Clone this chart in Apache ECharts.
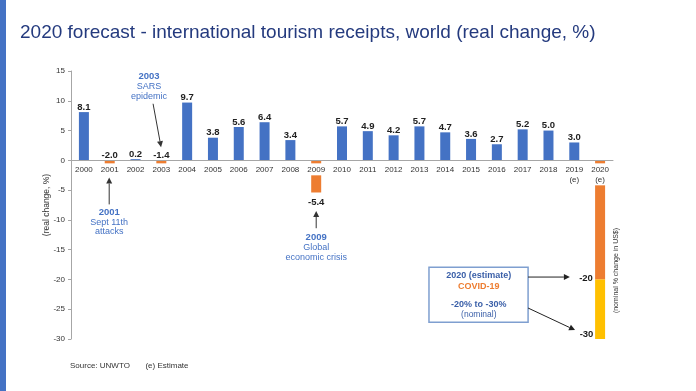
<!DOCTYPE html>
<html>
<head>
<meta charset="utf-8">
<script src="https://cdn.jsdelivr.net/npm/echarts@6/dist/echarts.min.js"></script>
<style>html,body{margin:0;padding:0;background:#fff}#c{width:696px;height:391px}</style>
</head>
<body>
<div id="c"></div>
<script>
// ---- data ----
const years = ['2000','2001','2002','2003','2004','2005','2006','2007','2008','2009','2010',
  '2011','2012','2013','2014','2015','2016','2017','2018','2019\n(e)','2020\n(e)'];
const realChange = [8.1, -2.0, 0.2, -1.4, 9.7, 3.8, 5.6, 6.4, 3.4, -5.4, 5.7,
  4.9, 4.2, 5.7, 4.7, 3.6, 2.7, 5.2, 5.0, 3.0];
const forecast2020 = [-20, -30];           // nominal % change in US$, low / high
const yTicks = { min: -30, max: 15, interval: 5 };

const BLUE = '#4472c4', ORANGE = '#ed7d31', YELLOW = '#ffc000';
const FONT = 'Liberation Sans, Arial, sans-serif';
const GRID = { left: 71, right: 83, top: 71, bottom: 52 };
const H = 391;

const mainData = realChange.concat([forecast2020[0]]).map((v, i) => ({
  value: v,
  itemStyle: { color: v < 0 ? ORANGE : BLUE },
  label: {
    show: i < realChange.length,
    position: (v < -3) ? 'bottom' : 'top',
    distance: (v < -3) ? 5 : 0
  }
}));
const rangeData = years.map((y, i) => i === years.length - 1 ? forecast2020[1] - forecast2020[0] : '-');

const chart = echarts.init(document.getElementById('c'));
chart.setOption({
  animation: false,
  textStyle: { fontFamily: FONT },
  title: {
    text: '2020 forecast - international tourism receipts, world (real change, %)',
    left: 15, top: 18,
    textStyle: { fontSize: 19, fontWeight: 'normal', color: '#243a7e', fontFamily: FONT }
  },
  grid: GRID,
  xAxis: {
    type: 'category', data: years, z: 10,
    axisLine: { onZero: false, lineStyle: { color: '#a6a6a6', width: 1 } },
    axisTick: { show: false },
    axisLabel: {
      interval: 0, fontSize: 8, color: '#333', margin: 3,
      lineHeight: 10, backgroundColor: '#fff', padding: [1, 2, 1, 2], fontFamily: FONT
    }
  },
  yAxis: {
    type: 'value', min: yTicks.min, max: yTicks.max, interval: yTicks.interval,
    name: '(real change, %)', nameLocation: 'middle', nameGap: 20, nameMoveOverlap: false,
    nameTextStyle: { fontSize: 8.5, color: '#333', fontFamily: FONT },
    axisLine: { show: true, lineStyle: { color: '#a6a6a6' } },
    axisTick: { show: true, length: 3, lineStyle: { color: '#a6a6a6' } },
    splitLine: { show: false },
    axisLabel: { fontSize: 8, color: '#333', margin: 6, fontFamily: FONT }
  },
  series: [
    {
      type: 'bar', stack: 'a', barWidth: 10, data: mainData,
      label: { fontSize: 9.5, fontWeight: 'bold', color: '#222', fontFamily: FONT,
        formatter: p => p.value.toFixed(1) }
    },
    {
      type: 'bar', stack: 'a', barWidth: 10, data: rangeData,
      itemStyle: { color: YELLOW }, label: { show: false }
    }
  ]
});

// move the category axis (line + labels) up to the zero line
const zeroY = chart.convertToPixel({ yAxisIndex: 0 }, 0);
chart.setOption({ xAxis: { offset: -((H - GRID.bottom) - zeroY) } });

// ---- annotations positioned through the axes ----
const step = chart.convertToPixel({ xAxisIndex: 0, yAxisIndex: 0 }, [1, 0])[0] -
             chart.convertToPixel({ xAxisIndex: 0, yAxisIndex: 0 }, [0, 0])[0];
function P(i, v) {
  const i0 = Math.floor(i);
  const p = chart.convertToPixel({ xAxisIndex: 0, yAxisIndex: 0 }, [i0, v]);
  return [p[0] + (i - i0) * step, p[1]];
}
function txt(pt, text, color, size, weight, extra, align) {
  const a = align || 'center';
  return Object.assign({
    type: 'text', x: pt[0], y: pt[1], z: 100,
    style: { text: text, fill: color, fontSize: size, fontWeight: weight || 'normal', fontFamily: FONT,
      align: a, verticalAlign: 'middle', textAlign: a, textVerticalAlign: 'middle' }
  }, extra || {});
}
function arrow(a, b, color) {
  const dx = b[0] - a[0], dy = b[1] - a[1], L = Math.hypot(dx, dy), ux = dx / L, uy = dy / L;
  const hl = 6, hw = 3;
  const base = [b[0] - ux * hl, b[1] - uy * hl];
  return [
    { type: 'line', z: 100, shape: { x1: a[0], y1: a[1], x2: base[0], y2: base[1] }, style: { stroke: color, lineWidth: 1 } },
    { type: 'polygon', z: 100, shape: { points: [b, [base[0] - uy * hw, base[1] + ux * hw], [base[0] + uy * hw, base[1] - ux * hw]] }, style: { fill: color } }
  ];
}

const AC = '#333';
const els = [];
// left stripe
els.push({ type: 'rect', left: 0, top: 0, shape: { x: 0, y: 0, width: 6, height: 391 }, style: { fill: BLUE } });
// SARS
els.push(txt(P(2.52, 14.1), '2003', BLUE, 9.5, 'bold'));
els.push(txt(P(2.52, 12.4), 'SARS', BLUE, 9));
els.push(txt(P(2.52, 10.7), 'epidemic', BLUE, 9));
els.push(...arrow(P(2.68, 9.5), P(2.99, 2.2), AC));
// Sept 11th
els.push(...arrow(P(0.98, -7.4), P(0.98, -2.9), AC));
els.push(txt(P(0.98, -8.8), '2001', BLUE, 9.5, 'bold'));
els.push(txt(P(0.98, -10.4), 'Sept 11th', BLUE, 9));
els.push(txt(P(0.98, -12.0), 'attacks', BLUE, 9));
// 2009
els.push(...arrow(P(9, -11.4), P(9, -8.5), AC));
els.push(txt(P(9, -12.9), '2009', BLUE, 9.5, 'bold'));
els.push(txt(P(9, -14.7), 'Global', BLUE, 9));
els.push(txt(P(9, -16.4), 'economic crisis', BLUE, 9));
// COVID box
const b0 = P(13.37, -17.95), b1 = P(17.21, -27.2);
els.push({ type: 'rect', z: 99, shape: { x: b0[0], y: b0[1], width: b1[0] - b0[0], height: b1[1] - b0[1] },
  style: { fill: '#fff', stroke: '#7f9fd0', lineWidth: 1.5 } });
els.push(txt(P(15.3, -19.3), '2020 (estimate)', '#3a5fa8', 9, 'bold'));
els.push(txt(P(15.3, -21.2), 'COVID-19', ORANGE, 9, 'bold'));
els.push(txt(P(15.3, -24.2), '-20% to -30%', '#3a5fa8', 9, 'bold'));
els.push(txt(P(15.3, -25.9), '(nominal)', '#3a5fa8', 8.5));
els.push(...arrow(P(17.21, -19.6), P(18.83, -19.6), '#222'));
els.push(...arrow(P(17.21, -24.8), P(19.03, -28.5), '#222'));
// right-side nominal labels
const rl = P(19.72, forecast2020[0]);
els.push(txt([rl[0], rl[1] - 1.5], String(forecast2020[0]), '#1a1a1a', 9.5, 'bold', {}, 'right'));
const rh = P(19.74, forecast2020[1]);
els.push(txt([rh[0], rh[1] - 5], String(forecast2020[1]), '#1a1a1a', 9.5, 'bold', {}, 'right'));
els.push(txt(P(20.6, -18.5), '(nominal % change in US$)', '#333', 7, 'normal', { rotation: Math.PI / 2 }));
// source
els.push({ type: 'text', left: 70, top: 362, style: { text: 'Source: UNWTO       (e) Estimate', fill: '#333', fontSize: 8, fontFamily: FONT } });

chart.setOption({ graphic: { elements: els } });
</script>
</body>
</html>
